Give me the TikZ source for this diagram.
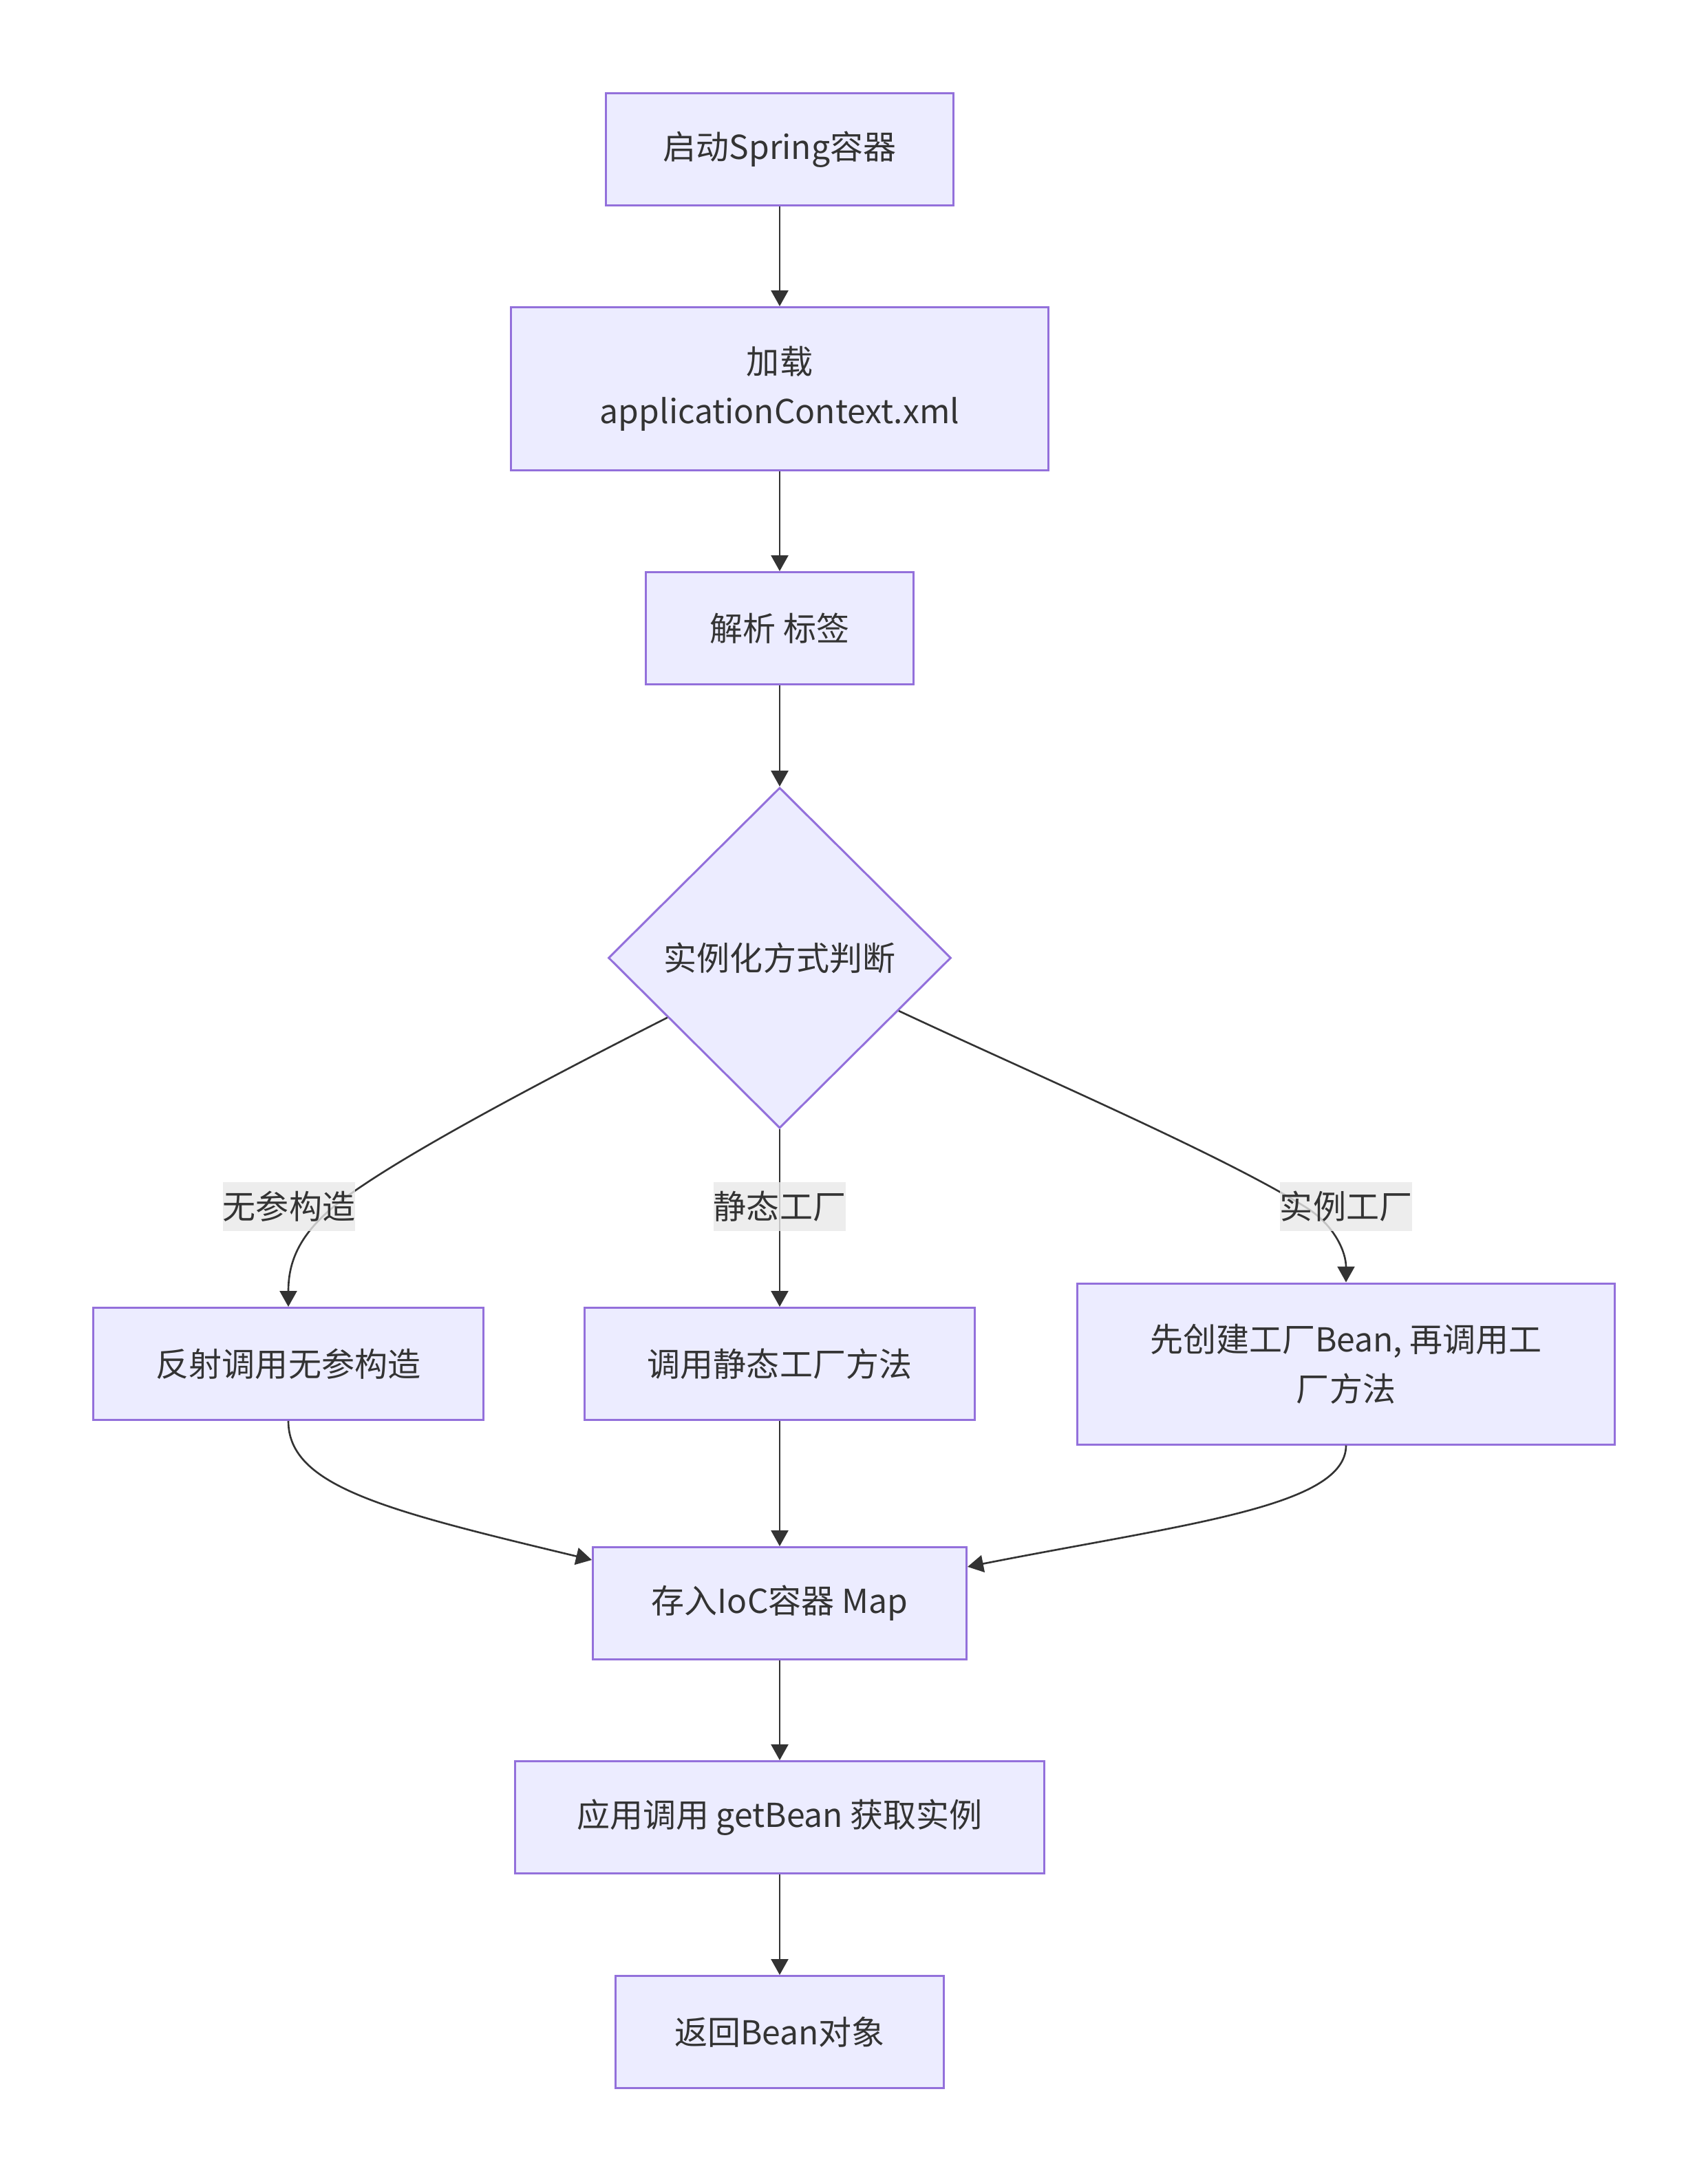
\documentclass[tikz,border=0pt]{standalone}
\usepackage{fontspec}
\setmainfont{Noto Sans CJK SC}
\usetikzlibrary{arrows.meta,shapes.geometric}
\definecolor{boxfill}{HTML}{ECECFF}
\definecolor{boxline}{HTML}{9370DB}
\definecolor{inkgray}{HTML}{333333}
\definecolor{labelbg}{HTML}{E8E8E8}

\begin{document}
\begin{tikzpicture}[>={Triangle[length=0.23cm,width=0.25cm]},
                    every node/.style={font=\fontsize{13.66}{20.5}\selectfont,text=inkgray},
                    box/.style={rectangle,draw=boxline,fill=boxfill,line width=0.85pt,minimum height=1.63cm,align=center},
                    choice/.style={diamond,draw=boxline,fill=boxfill,line width=0.85pt,minimum width=4.98cm,minimum height=4.95cm,inner sep=0pt},
                    edgelabel/.style={fill=labelbg,fill opacity=0.8,text opacity=1,inner sep=0pt,minimum width=1.92cm,minimum height=0.71cm},
                    flow/.style={->,draw=inkgray,line width=0.75pt}]
\useasboundingbox (0,0) rectangle (24.81,-31.71);

\node[box,minimum width=5.05cm] (spring) at (11.33,-2.17) {启动Spring容器};
\node[box,minimum width=7.81cm,minimum height=2.37cm] (load) [node distance=3.48cm,below of=spring] {加载\\applicationContext.xml};
\node[box,minimum width=3.89cm] (parse) [node distance=3.48cm,below of=load] {解析 标签};
\node[choice] (judge) [node distance=4.79cm,below of=parse] {实例化方式判断};
\node[box,minimum width=5.67cm] (static) [node distance=5.90cm,below of=judge] {调用静态工厂方法};
\node[box,minimum width=5.67cm] (reflect) [node distance=7.14cm,left of=static] {反射调用无参构造};
\node[box,minimum width=7.81cm,minimum height=2.34cm] (factory) [node distance=8.23cm,right of=static] {先创建工厂Bean, 再调用工\\厂方法};
\node[box,minimum width=5.43cm] (store) [node distance=3.48cm,below of=static] {存入IoC容器 Map};
\node[box,minimum width=7.69cm] (getbean) [node distance=3.11cm,below of=store] {应用调用 getBean 获取实例};
\node[box,minimum width=4.77cm] (result) [node distance=3.12cm,below of=getbean] {返回Bean对象};

\draw[flow] (spring) -- (load);
\draw[flow] (load) -- (parse);
\draw[flow] (parse) -- (judge);
\draw[flow] (judge.208) .. controls (8.00,-15.65) and (5.60,-16.90) .. (4.82,-17.56)
            .. controls (4.30,-18.00) and (4.19,-18.40) .. (reflect.north);
\draw[flow] (judge.south) -- (static.north);
\draw[flow] (judge.-24.5) .. controls (15.00,-15.60) and (17.80,-16.80) .. (19.00,-17.56)
            .. controls (19.40,-17.82) and (19.56,-18.20) .. (factory.north);
\draw[flow] (reflect.south) .. controls (4.19,-21.60) and (5.60,-21.95) .. (store.167);
\draw[flow] (static) -- (store);
\draw[flow] (factory.south) .. controls (19.56,-21.90) and (17.20,-22.15) .. (store.11.5);
\draw[flow] (store) -- (getbean);
\draw[flow] (getbean) -- (result);

\node[edgelabel] (noarg) at (4.20,-17.53) {无参构造};
\node[edgelabel] (staticway) at (11.33,-17.53) {静态工厂};
\node[edgelabel] (instway) at (19.56,-17.53) {实例工厂};
\end{tikzpicture}
\end{document}
